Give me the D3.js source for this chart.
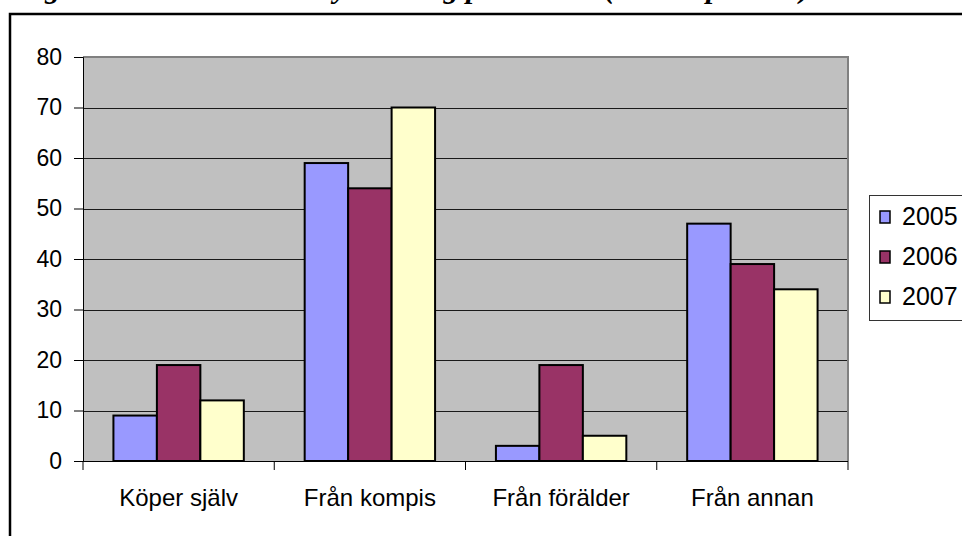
<!DOCTYPE html>
<html>
<head>
<meta charset="utf-8">
<script src="https://cdn.jsdelivr.net/npm/d3@7"></script>
<style>
  body { margin: 0; background: #fff; }
  svg { display: block; }
</style>
</head>
<body>
<svg id="canvas"></svg>
<script>
const categories = ["Köper själv", "Från kompis", "Från förälder", "Från annan"]
const years = ["2005", "2006", "2007"]
const values2005 = [9, 59, 3, 47]
const values2006 = [19, 54, 19, 39]
const values2007 = [12, 70, 5, 34]
const yTicks = [0, 10, 20, 30, 40, 50, 60, 70, 80]
const colors = ["#9999ff", "#993366", "#ffffcc"]
const titleText = "Figur 5. Hur elev i åk 9 nyss tar tag på alkohol (andel i procent)"

const width = 962
const height = 536

const plot = { left: 83, right: 848, top: 57, bottom: 461 }

const series = [values2005, values2006, values2007]

const canvas = d3.select("#canvas")
  .attr("width", width)
  .attr("height", height)

// title, only its descenders show at the top edge like the original
canvas.append("text")
  .attr("x", 17)
  .attr("y", -2)
  .attr("font-family", "Liberation Serif")
  .attr("font-weight", "bold")
  .attr("font-style", "italic")
  .attr("font-size", 30)
  .text(titleText)

// outer frame
canvas.append("rect")
  .attr("x", 10)
  .attr("y", 14)
  .attr("width", 980)
  .attr("height", 560)
  .attr("fill", "none")
  .attr("stroke", "#000")
  .attr("stroke-width", 2.5)

const xScale = d3.scaleBand()
  .domain(categories)
  .range([plot.left, plot.right])
  .padding(0)

const xInner = d3.scaleBand()
  .domain(years)
  .range([0, xScale.bandwidth()])
  .paddingInner(0)
  .paddingOuter(0.7)

const yScale = d3.scaleLinear()
  .domain([0, 80])
  .range([plot.bottom, plot.top])

// plot background
canvas.append("rect")
  .attr("x", plot.left)
  .attr("y", plot.top)
  .attr("width", plot.right - plot.left)
  .attr("height", plot.bottom - plot.top)
  .attr("fill", "#c0c0c0")

// gridlines
canvas.append("g")
  .selectAll("line")
  .data(yTicks.filter(d => d > 0 && d < 80))
  .enter()
  .append("line")
  .attr("x1", plot.left)
  .attr("x2", plot.right)
  .attr("y1", d => Math.round(yScale(d)) + 0.5)
  .attr("y2", d => Math.round(yScale(d)) + 0.5)
  .attr("stroke", "#1a1a1a")
  .attr("stroke-width", 1)

// grey border top and right
canvas.append("path")
  .attr("d", `M${plot.left},${plot.top} H${plot.right} V${plot.bottom}`)
  .attr("fill", "none")
  .attr("stroke", "#808080")
  .attr("stroke-width", 2)

// bars
const groups = canvas.append("g")
  .selectAll("g")
  .data(categories)
  .enter()
  .append("g")
  .attr("transform", d => "translate(" + xScale(d) + ",0)")

groups.selectAll("rect")
  .data((cat, i) => years.map((y, j) => ({ year: y, value: series[j][i], color: colors[j] })))
  .enter()
  .append("rect")
  .attr("x", d => xInner(d.year))
  .attr("y", d => yScale(d.value))
  .attr("width", xInner.bandwidth())
  .attr("height", d => plot.bottom - yScale(d.value))
  .attr("fill", d => d.color)
  .attr("stroke", "#000")
  .attr("stroke-width", 2)

// axes
const yAxis = d3.axisLeft(yScale)
  .tickValues(yTicks)
  .tickSize(9)
  .tickPadding(12)

canvas.append("g")
  .attr("transform", "translate(" + plot.left + ",0)")
  .call(yAxis)
  .call(g => g.select(".domain").attr("stroke", "#000"))
  .call(g => g.selectAll("text")
    .attr("font-family", "Liberation Sans, Arial")
    .attr("font-size", 23)
    .attr("fill", "#000"))

const xAxis = d3.axisBottom(xScale)
  .tickSize(0)
  .tickPadding(28)

const xg = canvas.append("g")
  .attr("transform", "translate(0," + plot.bottom + ")")
  .call(xAxis)

xg.select(".domain").attr("stroke", "#000").attr("d", `M${plot.left},0.5H${plot.right}`)
xg.selectAll("text")
  .attr("font-family", "Liberation Sans, Arial")
  .attr("font-size", 24)
  .attr("fill", "#000")

// category boundary ticks
xg.selectAll(".sep")
  .data(categories.concat(["end"]))
  .enter()
  .append("line")
  .attr("class", "sep")
  .attr("x1", (d, i) => i < categories.length ? xScale(d) : plot.right)
  .attr("x2", (d, i) => i < categories.length ? xScale(d) : plot.right)
  .attr("y1", 0)
  .attr("y2", 9)
  .attr("stroke", "#000")

// legend
const legend = canvas.append("g")
  .attr("transform", "translate(869,195)")

legend.append("rect")
  .attr("x", 0.5)
  .attr("y", 0.5)
  .attr("width", 120)
  .attr("height", 125)
  .attr("fill", "#fff")
  .attr("stroke", "#333")
  .attr("stroke-width", 1)

const legendScale = d3.scalePoint()
  .domain(years)
  .range([22, 102])

const items = legend.selectAll(".item")
  .data(years)
  .enter()
  .append("g")
  .attr("class", "item")
  .attr("transform", d => "translate(0," + legendScale(d) + ")")

items.append("rect")
  .attr("x", 11)
  .attr("y", -6)
  .attr("width", 10)
  .attr("height", 12)
  .attr("fill", (d, i) => colors[i])
  .attr("stroke", "#000")
  .attr("stroke-width", 1.5)

items.append("text")
  .attr("x", 33)
  .attr("y", 8)
  .attr("font-family", "Liberation Sans, Arial")
  .attr("font-size", 25)
  .text(d => d)
</script>
</body>
</html>
